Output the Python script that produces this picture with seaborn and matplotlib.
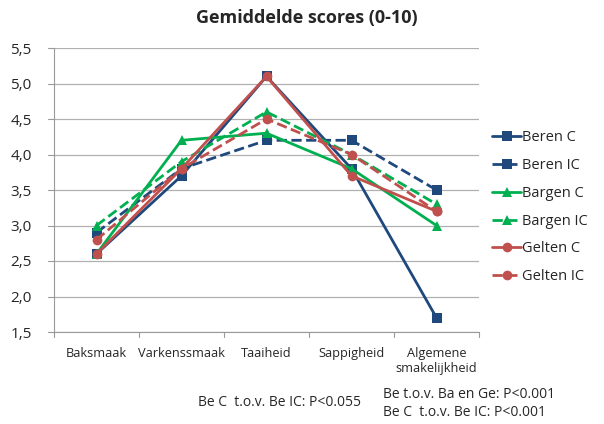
import numpy as np
import pandas as pd
import matplotlib
matplotlib.use("Agg")
import matplotlib.pyplot as plt
import seaborn as sns

# data
categorieen = ["Baksmaak", "Varkenssmaak", "Taaiheid", "Sappigheid", "Algemene\nsmakelijkheid"]
beren_c = [2.6, 3.7, 5.1, 3.8, 1.7]
beren_ic = [2.9, 3.8, 4.2, 4.2, 3.5]
bargen_c = [2.6, 4.2, 4.3, 3.8, 3.0]
bargen_ic = [3.0, 3.9, 4.6, 4.0, 3.3]
gelten_c = [2.6, 3.8, 5.1, 3.7, 3.2]
gelten_ic = [2.8, 3.8, 4.5, 4.0, 3.2]

series = [
    ("Beren C", beren_c, "#1F497D", "s", "-"),
    ("Beren IC", beren_ic, "#1F497D", "s", "--"),
    ("Bargen C", bargen_c, "#00B050", "^", "-"),
    ("Bargen IC", bargen_ic, "#00B050", "^", "--"),
    ("Gelten C", gelten_c, "#C0504D", "o", "-"),
    ("Gelten IC", gelten_ic, "#C0504D", "o", "--"),
]

sns.set_style("white")
plt.rcParams["font.family"] = ["Open Sans", "DejaVu Sans"]

fig = plt.figure(figsize=(6.04, 4.24), dpi=100)
ax = fig.add_axes([54 / 604, 1 - 332 / 424, 425 / 604, 284 / 424])

x = np.arange(len(categorieen))
for naam, waarden, kleur, marker, ls in series:
    df = pd.DataFrame({"x": x, "y": waarden})
    sns.lineplot(data=df, x="x", y="y", ax=ax, color=kleur, marker=marker,
                 linestyle=ls, linewidth=2, markersize=7, markeredgewidth=0,
                 label=naam)

ax.set_xlim(-0.5, len(categorieen) - 0.5)
ax.set_ylim(1.5, 5.5)
ax.set_yticks(np.arange(1.5, 5.51, 0.5))
ax.set_yticklabels([f"{v:.1f}".replace(".", ",") for v in np.arange(1.5, 5.51, 0.5)], fontsize=11)
ax.set_xticks(x)
ax.set_xticklabels(categorieen, fontsize=9.2, linespacing=1.2)
ax.tick_params(axis="x", length=0, pad=11)
ax.tick_params(axis="y", length=0, pad=16)
# kleine tickstreepjes tussen categorieen
for xt in np.arange(-0.5, len(categorieen)):
    ax.plot([xt, xt], [1.5, 1.43], color="#999999", lw=0.8, clip_on=False)
for yv in np.arange(1.5, 5.51, 0.5):
    ax.plot([-0.57, -0.5], [yv, yv], color="#999999", lw=0.8, clip_on=False)

ax.yaxis.grid(True, color="#b0b0b0", lw=0.9)
ax.set_axisbelow(True)
for s in ["top", "right"]:
    ax.spines[s].set_visible(False)
for s in ["left", "bottom"]:
    ax.spines[s].set_color("#999999")
    ax.spines[s].set_linewidth(0.8)
ax.set_xlabel("")
ax.set_ylabel("")

leg = ax.legend(loc="upper left", bbox_to_anchor=(479 / 604, 1 - 117 / 424),
                bbox_transform=fig.transFigure, frameon=False, fontsize=10.5,
                handlelength=2.0, handletextpad=0.05, labelspacing=0.88)

fig.text(307 / 604, 1 - 18 / 424, "Gemiddelde scores (0-10)", ha="center", va="center",
         fontsize=13, fontweight="bold")
fig.text(198 / 604, 1 - 403 / 424, "Be C  t.o.v. Be IC: P<0.055", ha="left", va="center", fontsize=10)
fig.text(383 / 604, 1 - 394 / 424, "Be t.o.v. Ba en Ge: P<0.001", ha="left", va="center", fontsize=10)
fig.text(383 / 604, 1 - 413 / 424, "Be C  t.o.v. Be IC: P<0.001", ha="left", va="center", fontsize=10)

fig.savefig("out.png", dpi=100)
